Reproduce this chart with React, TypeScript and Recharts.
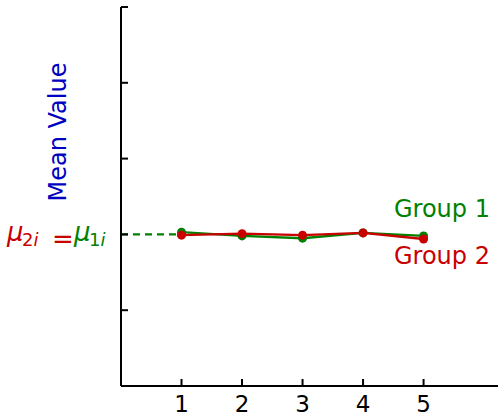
import { LineChart, Line, XAxis, YAxis, ReferenceLine } from 'recharts';

const positions = [1, 2, 3, 4, 5];
const group1 = [2.03, 1.98, 1.95, 2.02, 1.98];
const group2 = [1.99, 2.01, 1.99, 2.02, 1.94];
const yTicks = [1, 2, 3, 4, 5];
const meanLevel = 2;

const GREEN = '#008000';
const RED = '#c80000';
const BLUE = '#0000c0';
const FONT = '"DejaVu Sans", sans-serif';

const data = positions.map((p, i) => ({ pos: p, g1: group1[i], g2: group2[i] }));

function XTick({ x, y, payload }: any) {
  return (
    <g>
      <line x1={x} x2={x} y1={y} y2={y - 7} stroke="#000" strokeWidth={2} />
      <text x={x} y={y + 26} textAnchor="middle" fontFamily={FONT} fontSize={23} fill="#000">
        {payload.value}
      </text>
    </g>
  );
}

function YTick({ x, y }: any) {
  return <line x1={x} x2={x + 7} y1={y} y2={y} stroke="#000" strokeWidth={2} />;
}

export default function App() {
  return (
    <div style={{ position: 'absolute', left: 0, top: 0, width: 498, height: 417 }}>
      <LineChart width={498} height={417} data={data} margin={{ top: 7, right: 0, bottom: 30, left: 120 }}>
        <XAxis
          dataKey="pos"
          type="number"
          domain={[0, 6.23]}
          ticks={positions}
          height={1}
          tickSize={0}
          tickMargin={0}
          tickLine={false}
          axisLine={{ stroke: '#000', strokeWidth: 2 }}
          tick={<XTick />}
          interval={0}
        />
        <YAxis
          type="number"
          domain={[0, 5]}
          ticks={yTicks}
          width={1}
          tickSize={0}
          tickMargin={0}
          tickLine={false}
          axisLine={{ stroke: '#000', strokeWidth: 2 }}
          tick={<YTick />}
          interval={0}
        />
        <ReferenceLine
          segment={[{ x: 0, y: meanLevel }, { x: 1, y: meanLevel }]}
          stroke={GREEN}
          strokeWidth={2.2}
          strokeDasharray="7 5"
        />
        <Line
          dataKey="g1"
          stroke={GREEN}
          strokeWidth={2.4}
          dot={{ r: 4.5, fill: GREEN, stroke: GREEN, strokeWidth: 0 }}
          isAnimationActive={false}
        />
        <Line
          dataKey="g2"
          stroke={RED}
          strokeWidth={2.4}
          dot={{ r: 4.5, fill: RED, stroke: RED, strokeWidth: 0 }}
          isAnimationActive={false}
        />
      </LineChart>
      <svg width={498} height={417} style={{ position: 'absolute', left: 0, top: 0, pointerEvents: 'none' }}>
        <text x={66} y={132} transform="rotate(-90 66 132)" textAnchor="middle" fontFamily={FONT} fontSize={24} fill={BLUE}>
          Mean Value
        </text>
        <text x={394} y={217} fontFamily={FONT} fontSize={24} fill={GREEN}>Group 1</text>
        <text x={394} y={264} fontFamily={FONT} fontSize={24} fill={RED}>Group 2</text>
        <text x={7} y={241} fontFamily={FONT} fontSize={26} fill={RED} fontStyle="italic">μ</text>
        <text x={22} y={246} fontFamily={FONT} fontSize={18} fill={RED}>
          2<tspan fontStyle="italic">i</tspan>
        </text>
        <text x={52} y={248} fontFamily={FONT} fontSize={26} fill={RED}>=</text>
        <text x={74} y={241} fontFamily={FONT} fontSize={26} fill={GREEN} fontStyle="italic">μ</text>
        <text x={89} y={246} fontFamily={FONT} fontSize={18} fill={GREEN}>
          1<tspan fontStyle="italic">i</tspan>
        </text>
      </svg>
    </div>
  );
}
